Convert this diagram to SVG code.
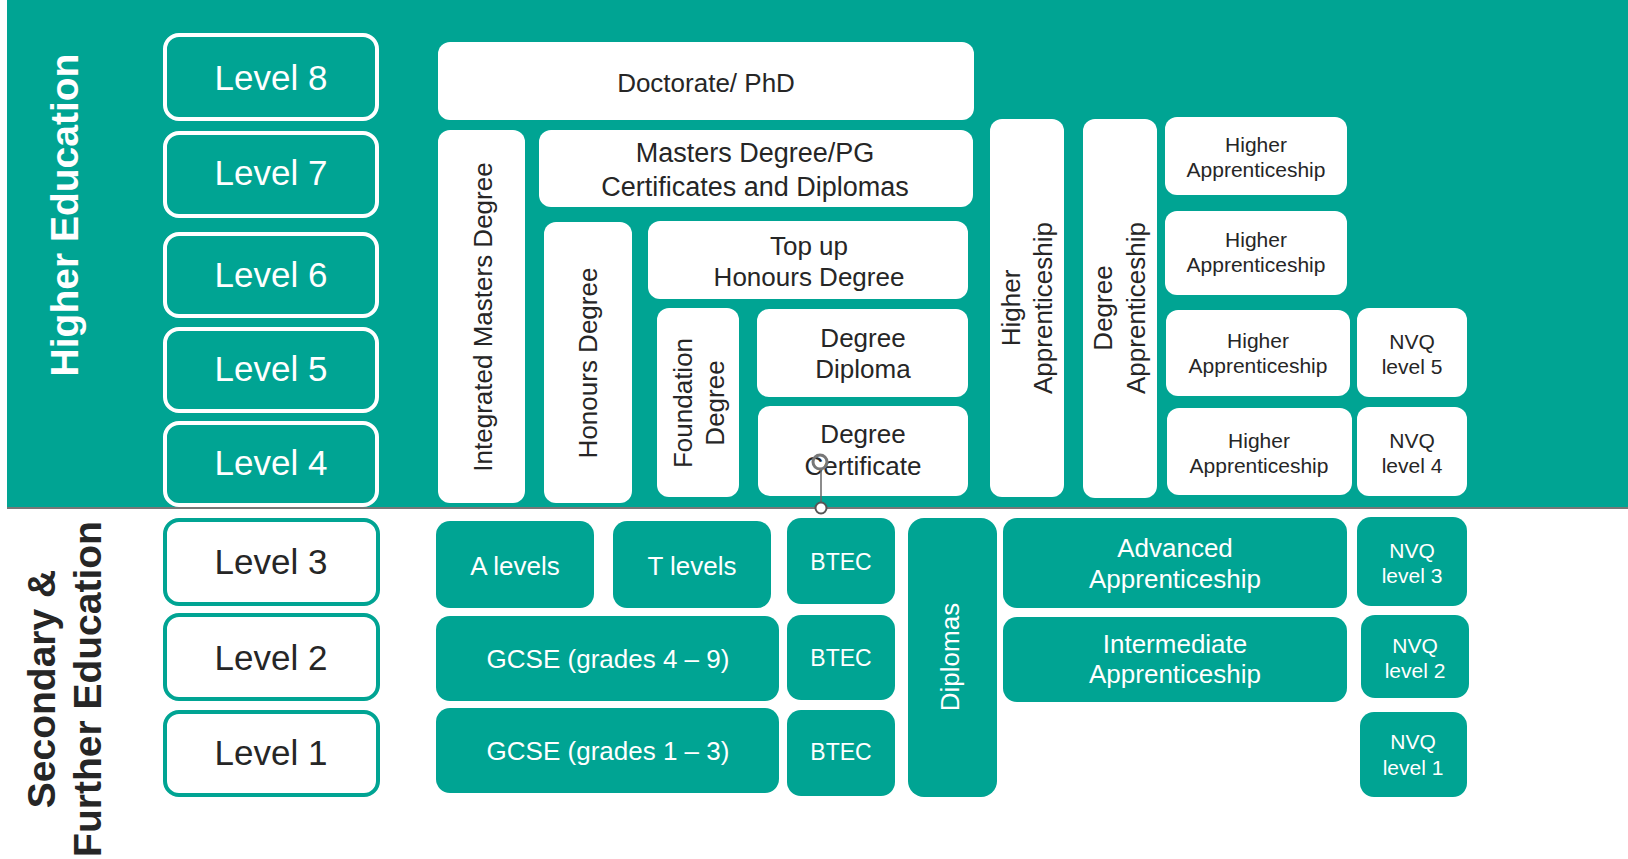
<svg xmlns="http://www.w3.org/2000/svg" width="1628" height="859" viewBox="0 0 1628 859">
<style>
text{font-family:"Liberation Sans",Arial,sans-serif;}
.lvlh{fill:none;stroke:#fff;stroke-width:4}
.lvls{fill:#fff;stroke:#00a493;stroke-width:4}
.w{fill:#fff}
.t{fill:#00a493}
.tw{fill:#fff;text-anchor:middle}
.td{fill:#262626;text-anchor:middle}
.f35{font-size:35px}
.f27{font-size:27px}
.f26{font-size:26px}
.f23{font-size:23px}
.f21{font-size:21px}
.sec{font-size:39px;font-weight:bold;text-anchor:middle}
</style>
<rect x="0" y="0" width="1628" height="859" fill="#fff"/>
<rect x="7" y="0" width="1621" height="507" fill="#00a493"/>
<rect x="7" y="507" width="1621" height="2" fill="#777"/>

<g id="label-he">
<text class="sec" fill="#fff" transform="translate(78,215) rotate(-90)">Higher Education</text>
</g>
<g id="label-sfe">
<text class="sec" fill="#262626" transform="translate(55,689) rotate(-90)">Secondary &amp;</text>
<text class="sec" fill="#262626" transform="translate(101,689) rotate(-90)">Further Education</text>
</g>

<g id="level8"><rect class="lvlh" x="165" y="35" width="212" height="84" rx="14"/><text class="tw f35" x="271" y="90">Level 8</text></g>
<g id="level7"><rect class="lvlh" x="165" y="133" width="212" height="83" rx="14"/><text class="tw f35" x="271" y="185">Level 7</text></g>
<g id="level6"><rect class="lvlh" x="165" y="234" width="212" height="82" rx="14"/><text class="tw f35" x="271" y="287">Level 6</text></g>
<g id="level5"><rect class="lvlh" x="165" y="329" width="212" height="82" rx="14"/><text class="tw f35" x="271" y="381">Level 5</text></g>
<g id="level4"><rect class="lvlh" x="165" y="423" width="212" height="82" rx="14"/><text class="tw f35" x="271" y="475">Level 4</text></g>
<g id="level3"><rect class="lvls" x="165" y="520" width="213" height="84" rx="14"/><text class="td f35" x="271" y="574">Level 3</text></g>
<g id="level2"><rect class="lvls" x="165" y="615" width="213" height="84" rx="14"/><text class="td f35" x="271" y="670">Level 2</text></g>
<g id="level1"><rect class="lvls" x="165" y="712" width="213" height="83" rx="14"/><text class="td f35" x="271" y="765">Level 1</text></g>

<g id="doctorate"><rect class="w" x="438" y="42" width="536" height="78" rx="12"/><text class="td f26" x="706" y="92">Doctorate/ PhD</text></g>
<g id="integrated-masters"><rect class="w" x="438" y="130" width="87" height="373" rx="12"/><text class="td f26" transform="translate(492,317) rotate(-90)">Integrated Masters Degree</text></g>
<g id="masters"><rect class="w" x="539" y="130" width="434" height="77" rx="12"/><text class="td f27" x="755" y="162">Masters Degree/PG</text><text class="td f27" x="755" y="196">Certificates and Diplomas</text></g>
<g id="honours"><rect class="w" x="544" y="222" width="88" height="281" rx="12"/><text class="td f26" transform="translate(597,363) rotate(-90)">Honours Degree</text></g>
<g id="topup"><rect class="w" x="648" y="221" width="320" height="78" rx="12"/><text class="td f26" x="809" y="255">Top up</text><text class="td f26" x="809" y="286">Honours Degree</text></g>
<g id="foundation"><rect class="w" x="657" y="308" width="82" height="189" rx="12"/><text class="td f26" transform="translate(692,403) rotate(-90)">Foundation</text><text class="td f26" transform="translate(724,403) rotate(-90)">Degree</text></g>
<g id="degree-diploma"><rect class="w" x="757" y="309" width="211" height="88" rx="12"/><text class="td f26" x="863" y="347">Degree</text><text class="td f26" x="863" y="378">Diploma</text></g>
<g id="degree-certificate"><rect class="w" x="758" y="406" width="210" height="90" rx="12"/><text class="td f26" x="863" y="443">Degree</text><text class="td f26" x="863" y="475">Certificate</text></g>

<g id="higher-app-v"><rect class="w" x="990" y="119" width="74" height="378" rx="12"/><text class="td f26" transform="translate(1020,308) rotate(-90)">Higher</text><text class="td f26" transform="translate(1052,308) rotate(-90)">Apprenticeship</text></g>
<g id="degree-app-v"><rect class="w" x="1083" y="119" width="74" height="379" rx="12"/><text class="td f26" transform="translate(1112,308) rotate(-90)">Degree</text><text class="td f26" transform="translate(1145,308) rotate(-90)">Apprenticeship</text></g>

<g id="ha7"><rect class="w" x="1165" y="117" width="182" height="78" rx="12"/><text class="td f21" x="1256" y="152">Higher</text><text class="td f21" x="1256" y="177">Apprenticeship</text></g>
<g id="ha6"><rect class="w" x="1165" y="211" width="182" height="84" rx="12"/><text class="td f21" x="1256" y="247">Higher</text><text class="td f21" x="1256" y="272">Apprenticeship</text></g>
<g id="ha5"><rect class="w" x="1166" y="310" width="184" height="86" rx="12"/><text class="td f21" x="1258" y="348">Higher</text><text class="td f21" x="1258" y="373">Apprenticeship</text></g>
<g id="ha4"><rect class="w" x="1167" y="408" width="185" height="87" rx="12"/><text class="td f21" x="1259" y="448">Higher</text><text class="td f21" x="1259" y="473">Apprenticeship</text></g>
<g id="nvq5"><rect class="w" x="1357" y="308" width="110" height="89" rx="12"/><text class="td f21" x="1412" y="349">NVQ</text><text class="td f21" x="1412" y="374">level 5</text></g>
<g id="nvq4"><rect class="w" x="1357" y="407" width="110" height="89" rx="12"/><text class="td f21" x="1412" y="448">NVQ</text><text class="td f21" x="1412" y="473">level 4</text></g>

<g id="alevels"><rect class="t" x="436" y="521" width="158" height="87" rx="14"/><text class="tw f26" x="515" y="575">A levels</text></g>
<g id="tlevels"><rect class="t" x="613" y="521" width="158" height="87" rx="14"/><text class="tw f26" x="692" y="575">T levels</text></g>
<g id="btec3"><rect class="t" x="787" y="518" width="108" height="86" rx="14"/><text class="tw f23" x="841" y="570">BTEC</text></g>
<g id="gcse49"><rect class="t" x="436" y="616" width="343" height="85" rx="14"/><text class="tw f26" x="608" y="668">GCSE (grades 4 – 9)</text></g>
<g id="btec2"><rect class="t" x="787" y="615" width="108" height="85" rx="14"/><text class="tw f23" x="841" y="666">BTEC</text></g>
<g id="gcse13"><rect class="t" x="436" y="708" width="343" height="85" rx="14"/><text class="tw f26" x="608" y="760">GCSE (grades 1 – 3)</text></g>
<g id="btec1"><rect class="t" x="787" y="710" width="108" height="86" rx="14"/><text class="tw f23" x="841" y="760">BTEC</text></g>
<g id="diplomas"><rect class="t" x="908" y="518" width="89" height="279" rx="16"/><text class="tw f26" transform="translate(959,657) rotate(-90)">Diplomas</text></g>
<g id="advanced-app"><rect class="t" x="1003" y="518" width="344" height="90" rx="14"/><text class="tw f26" x="1175" y="557">Advanced</text><text class="tw f26" x="1175" y="588">Apprenticeship</text></g>
<g id="intermediate-app"><rect class="t" x="1003" y="617" width="344" height="85" rx="14"/><text class="tw f26" x="1175" y="653">Intermediate</text><text class="tw f26" x="1175" y="683">Apprenticeship</text></g>
<g id="nvq3"><rect class="t" x="1357" y="517" width="110" height="89" rx="14"/><text class="tw f21" x="1412" y="558">NVQ</text><text class="tw f21" x="1412" y="583">level 3</text></g>
<g id="nvq2"><rect class="t" x="1361" y="615" width="108" height="83" rx="14"/><text class="tw f21" x="1415" y="653">NVQ</text><text class="tw f21" x="1415" y="678">level 2</text></g>
<g id="nvq1"><rect class="t" x="1360" y="712" width="107" height="85" rx="14"/><text class="tw f21" x="1413" y="749">NVQ</text><text class="tw f21" x="1413" y="775">level 1</text></g>

<g id="connectors">
<line x1="821" y1="468" x2="821" y2="503" stroke="#666" stroke-width="1.5"/>
<circle cx="821" cy="508" r="5.5" fill="#fff" stroke="#555" stroke-width="2"/>
<circle cx="820" cy="462" r="7" fill="none" stroke="#777" stroke-width="3"/>
</g>
</svg>
